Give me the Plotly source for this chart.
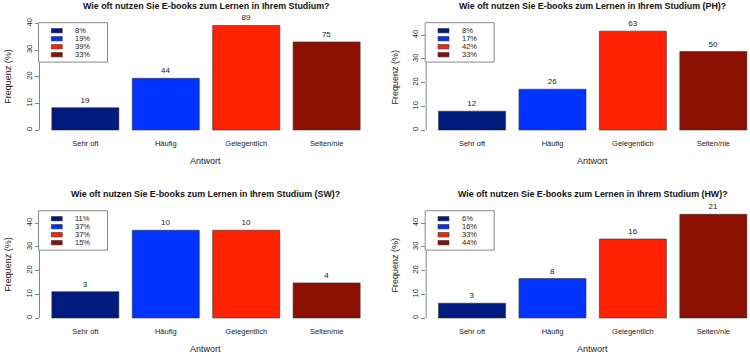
import plotly.graph_objects as go

# ---------------- data ----------------
categories = ["Sehr oft", "Häufig", "Gelegentlich", "Selten/nie"]
counts_all = [19, 44, 89, 75]
counts_ph = [12, 26, 63, 50]
counts_sw = [3, 10, 10, 4]
counts_hw = [3, 8, 16, 21]
pct_all = ["8%", "19%", "39%", "33%"]
pct_ph = ["8%", "17%", "42%", "33%"]
pct_sw = ["11%", "37%", "37%", "15%"]
pct_hw = ["6%", "16%", "33%", "44%"]
titles = [
    "Wie oft nutzen Sie E-books zum Lernen in Ihrem Studium?",
    "Wie oft nutzen Sie E-books zum Lernen in Ihrem Studium (PH)?",
    "Wie oft nutzen Sie E-books zum Lernen in Ihrem Studium (SW)?",
    "Wie oft nutzen Sie E-books zum Lernen in Ihrem Studium (HW)?",
]
y_ticks = [0, 10, 20, 30, 40]
y_max = [40, 45, 45, 45]
bar_colors = ["#001A80", "#0033FF", "#FF2200", "#8B1000"]

panels = [
    (counts_all, pct_all),
    (counts_ph, pct_ph),
    (counts_sw, pct_sw),
    (counts_hw, pct_hw),
]

# ---------------- layout constants (pixels) ----------------
W, H = 750, 356
col_left = [39.5, 426.2]        # plot-region left edge
col_center = [205.8, 592.6]     # centre of plot region (uncropped)
row_top = [19.1, 207.1]
row_bottom = [134.3, 322.3]
px_per_cat = 80.43
FONT = "Liberation Sans, Arial, sans-serif"
TXT = "#222222"


def px_x(p):
    return p / W


def px_y(p):
    return 1 - p / H


fig = go.Figure()
shapes = []
annotations = []

for i, (counts, pcts) in enumerate(panels):
    r, c = divmod(i, 2)
    n = i + 1
    xa = "x" if n == 1 else f"x{n}"
    ya = "y" if n == 1 else f"y{n}"
    total = sum(counts)
    heights = [v / total * 100 for v in counts]

    fig.add_trace(go.Bar(
        x=categories, y=heights, xaxis=xa, yaxis=ya,
        marker=dict(color=bar_colors, line=dict(color="#333333", width=0.6)),
        text=[str(v) for v in counts], textposition="outside",
        textfont=dict(size=8, color=TXT, family=FONT),
        cliponaxis=False, showlegend=False, hoverinfo="skip",
    ))

    left = col_left[c]
    right = min(left + 4.14 * px_per_cat, W)
    x_range = [-0.57, -0.57 + (right - left) / px_per_cat]
    m = y_max[i]

    xkey = "xaxis" if n == 1 else f"xaxis{n}"
    ykey = "yaxis" if n == 1 else f"yaxis{n}"
    fig.layout[xkey] = dict(
        domain=[px_x(left), px_x(right)], range=x_range, anchor=ya,
        type="category", showline=False, showgrid=False, zeroline=False,
        ticks="", tickfont=dict(size=7.5, color=TXT, family=FONT),
        ticklabelstandoff=3, fixedrange=True,
    )
    fig.layout[ykey] = dict(
        domain=[px_y(row_bottom[r]), px_y(row_top[r])],
        range=[-0.04 * m, 1.04 * m], anchor=xa,
        showline=False, showgrid=False, zeroline=False,
        tickvals=y_ticks, ticktext=[str(t) for t in y_ticks],
        ticks="outside", ticklen=4, tickcolor="#666666", tickwidth=0.8,
        tickangle=-90, tickfont=dict(size=7.5, color=TXT, family=FONT),
        fixedrange=True,
    )
    # y axis line from first to last tick (as R draws it)
    shapes.append(dict(type="line", xref=f"{xa} domain", yref=ya,
                       x0=0, x1=0, y0=y_ticks[0], y1=y_ticks[-1],
                       line=dict(color="#666666", width=0.8)))

    # titles
    top, bottom = row_top[r], row_bottom[r]
    annotations.append(dict(text=f"<b>{titles[i]}</b>", xref="paper", yref="paper",
                            x=px_x(col_center[c]), y=px_y(top - 13),
                            showarrow=False, xanchor="center", yanchor="middle",
                            font=dict(size=8.9, color="#111111", family=FONT)))
    annotations.append(dict(text="Antwort", xref="paper", yref="paper",
                            x=px_x(col_center[c]), y=px_y(bottom + 26.7),
                            showarrow=False, xanchor="center", yanchor="middle",
                            font=dict(size=9, color=TXT, family=FONT)))
    annotations.append(dict(text="Frequenz (%)", xref="paper", yref="paper",
                            x=px_x(left - 31.5), y=px_y((top + bottom) / 2),
                            showarrow=False, xanchor="center", yanchor="middle",
                            textangle=-90,
                            font=dict(size=9, color=TXT, family=FONT)))

    # legend box (drawn like R's legend("topleft"))
    bx0, bx1 = left - 1, left + 68
    by0, by1 = top + 3.6, top + 43
    shapes.append(dict(type="rect", xref="paper", yref="paper",
                       x0=px_x(bx0), x1=px_x(bx1), y0=px_y(by1), y1=px_y(by0),
                       line=dict(color="#888888", width=1), fillcolor="white",
                       layer="above"))
    for k, (lab, col) in enumerate(zip(pcts, bar_colors)):
        cy = top + 11.6 + 8 * k
        shapes.append(dict(type="rect", xref="paper", yref="paper",
                           x0=px_x(left + 11.8), x1=px_x(left + 22.8),
                           y0=px_y(cy + 2.2), y1=px_y(cy - 2.2),
                           fillcolor=col, line=dict(color="#333333", width=0.6),
                           layer="above"))
        annotations.append(dict(text=lab, xref="paper", yref="paper",
                                x=px_x(left + 33.8), y=px_y(cy),
                                showarrow=False, xanchor="left", yanchor="middle",
                                font=dict(size=7.5, color=TXT, family=FONT)))

fig.update_layout(
    width=W, height=H, margin=dict(l=0, r=0, t=0, b=0),
    paper_bgcolor="white", plot_bgcolor="white",
    bargap=1 / 6, shapes=shapes, annotations=annotations,
    font=dict(family=FONT, color=TXT),
)

fig.write_html(
    "out.html",
    config={"displayModeBar": False, "staticPlot": True},
    post_script="document.body.style.margin='0';document.body.style.overflow='hidden';",
)
